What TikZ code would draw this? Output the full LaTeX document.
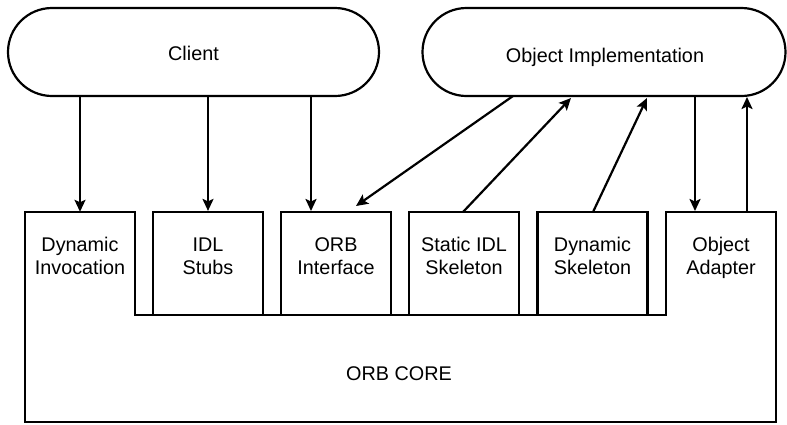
\documentclass[tikz,border=0pt]{standalone}
\usepackage{fontspec}
\setmainfont{Liberation Sans}
\usetikzlibrary{arrows.meta}
\begin{document}
\begin{tikzpicture}[x=1pt,y=-1pt,
  lbl/.style={font=\fontsize{19.8}{23}\selectfont, align=center, inner sep=0pt, anchor=base},
  pill/.style={draw, line width=2.2pt, rounded corners=44pt, minimum height=88pt, inner sep=0pt},
  comp/.style={draw, line width=2.2pt, minimum width=110pt, minimum height=103pt, inner sep=0pt},
  ghost/.style={minimum width=110pt, minimum height=103pt, inner sep=0pt},
  conn/.style={line width=2.2pt, -{Stealth[length=12pt,width=11pt,inset=2.5pt]}}]
\useasboundingbox (0,0) rectangle (787,424);
% pills
\node[pill, minimum width=371pt] (client) at (193.5,52) {};
\node[lbl] (clientT) at (193.5,60.5) {Client};
\node[pill, minimum width=363pt] (oi) at (604,52) {};
\node[lbl] (oiT) at (605,62) {Object Implementation};
% ORB core outline
\draw[line width=2.2pt, line join=miter] (25,212) -- (135,212) -- (135,315) -- (666,315) -- (666,212) -- (776,212) -- (776,422) -- (25,422) -- cycle;
\node[lbl] (core) at (399,380) {ORB CORE};
% component boxes
\node[ghost] (di) at (80,263.5) {};
\node[comp] (stubs) at (208,263.5) {};
\node[comp] (orbi) at (336,263.5) {};
\node[comp] (sidl) at (464,263.5) {};
\node[comp] (dsk) at (592.5,263.5) {};
\node[ghost] (oa) at (721,263.5) {};
\node[lbl] (diT) at (80,274) {Dynamic\\Invocation};
\node[lbl] (stubsT) at (208,274) {IDL\\Stubs};
\node[lbl] (orbiT) at (336,274) {ORB\\Interface};
\node[lbl] (sidlT) at (464,274) {Static IDL\\Skeleton};
\node[lbl] (dskT) at (592.5,274) {Dynamic\\Skeleton};
\node[lbl] (oaT) at (721,274) {Object\\Adapter};
% connectors
\draw[conn] (client.south -| di.north) -- (di.north);
\draw[conn] (client.south -| stubs.north) -- (stubs.north);
\draw[conn] (311,96) -- (311,211);
\draw[conn] (513,96) -- (356,206);
\draw[conn] (463,212) -- (571,98);
\draw[conn] (593,212) -- (647,98);
\draw[conn] (695,96) -- (695,211);
\draw[conn] (747,212) -- (747,97);
\end{tikzpicture}
\end{document}
